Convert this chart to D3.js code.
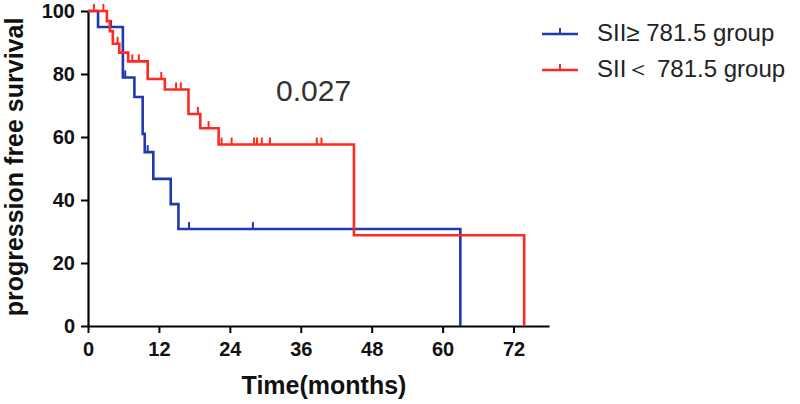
<!DOCTYPE html>
<html>
<head>
<meta charset="utf-8">
<script src="https://cdn.jsdelivr.net/npm/d3@7"></script>
<style>
  html, body { margin: 0; padding: 0; background: #fff; }
  svg { display: block; }
</style>
</head>
<body>
<svg id="chart" width="800" height="404"></svg>
<script>
// ---- data ----
const xTicks = [0, 12, 24, 36, 48, 60, 72];
const yTicks = [0, 20, 40, 60, 80, 100];
const seriesNames = ["SII\u2265 781.5 group", "SII\uFF1C 781.5 group"];

const highTimes = [0, 1.7, 5.9, 7.85, 9.25, 9.6, 11.05, 14.0, 15.3, 63.0];
const highSurv  = [100, 94.9, 78.9, 72.7, 61.0, 55.2, 46.7, 38.7, 30.8, 0];
const highCensor = [3.9, 6.3, 10.1, 17.1, 27.9];

const lowTimes = [0, 3.2, 3.7, 4.2, 5.3, 6.8, 10.1, 13.0, 17.0, 19.0, 22.1, 45.0, 73.8];
const lowSurv  = [100, 96.8, 93.6, 89.6, 86.8, 84.0, 78.4, 75.1, 67.3, 62.8, 57.6, 28.8, 0];
const lowCensor = [1.0, 2.6, 5.0, 7.5, 8.6, 12.4, 14.9, 15.7, 18.6, 20.4, 22.6, 24.3, 28.1, 28.6, 29.4, 30.8, 38.7, 39.5];

const pValue = "0.027";

// ---- layout ----
const svg = d3.select("#chart");
const x = d3.scaleLinear().domain([0, 78]).range([88, 549]);
const y = d3.scaleLinear().domain([0, 100]).range([326, 11]);
const BLUE = "#2138b0";
const RED = "#ff2a1f";

// axes
const xAxis = svg.append("g").attr("transform", "translate(0,326)")
  .call(d3.axisBottom(x).tickValues(xTicks).tickSize(7).tickSizeOuter(0).tickPadding(9));
const yAxis = svg.append("g").attr("transform", "translate(88,0)")
  .call(d3.axisLeft(y).tickValues(yTicks).tickSize(7).tickSizeOuter(0).tickPadding(6));
[xAxis, yAxis].forEach(g => {
  g.select(".domain").attr("stroke", "#000").attr("stroke-width", 2.2);
  g.selectAll(".tick line").attr("stroke", "#000").attr("stroke-width", 2);
  g.selectAll(".tick text").attr("fill", "#111")
    .style("font-family", "'Liberation Sans', Arial, sans-serif")
    .style("font-weight", "bold").style("font-size", "20px");
});

// titles
svg.append("text").attr("x", 324).attr("y", 394).attr("text-anchor", "middle")
  .style("font-family", "'Liberation Sans', Arial, sans-serif").style("font-weight", "bold")
  .style("font-size", "25px").attr("fill", "#111").text("Time(months)");
svg.append("text").attr("transform", "translate(23,167) rotate(-90)").attr("text-anchor", "middle")
  .style("font-family", "'Liberation Sans', Arial, sans-serif").style("font-weight", "bold")
  .style("font-size", "25px").attr("fill", "#111").text("progression free survival");

// survival curves
function stepAt(times, surv, t) {
  let v = surv[0];
  for (let i = 0; i < times.length; i++) { if (times[i] <= t) v = surv[i]; }
  return v;
}
const line = d3.line().x(d => x(d[0])).y(d => y(d[1])).curve(d3.curveStepAfter);
function drawCurve(times, surv, censor, color) {
  const pts = times.map((t, i) => [t, surv[i]]);
  svg.append("path").attr("d", line(pts)).attr("fill", "none")
    .attr("stroke", color).attr("stroke-width", 2.6);
  svg.append("g").selectAll("line").data(censor).join("line")
    .attr("x1", d => x(d)).attr("x2", d => x(d))
    .attr("y1", d => y(stepAt(times, surv, d)))
    .attr("y2", d => y(stepAt(times, surv, d)) - 7)
    .attr("stroke", color).attr("stroke-width", 2);
}
drawCurve(highTimes, highSurv, highCensor, BLUE);
drawCurve(lowTimes, lowSurv, lowCensor, RED);

// p-value
svg.append("text").attr("x", 276).attr("y", 101).attr("fill", "#333")
  .style("font-family", "'Liberation Sans', Arial, sans-serif").style("font-size", "30px")
  .text(pValue);

// legend
const legend = svg.append("g");
[[BLUE, 34, 41], [RED, 70, 77]].forEach((c, i) => {
  legend.append("line").attr("x1", 542).attr("x2", 578).attr("y1", c[1]).attr("y2", c[1])
    .attr("stroke", c[0]).attr("stroke-width", 2.6);
  legend.append("line").attr("x1", 560).attr("x2", 560).attr("y1", c[1]).attr("y2", c[1] - 6)
    .attr("stroke", c[0]).attr("stroke-width", 2);
  legend.append("text").attr("x", 597).attr("y", c[2]).attr("fill", "#222")
    .style("font-family", "'Liberation Sans', Arial, sans-serif").style("font-size", "24px")
    .text(seriesNames[i]);
});
</script>
</body>
</html>
